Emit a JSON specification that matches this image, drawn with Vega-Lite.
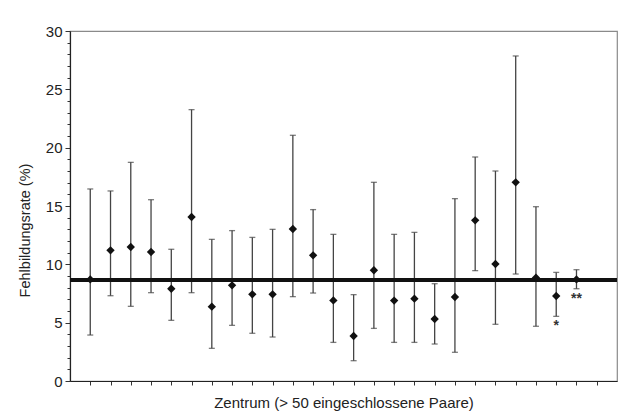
{
  "$schema": "https://vega.github.io/schema/vega-lite/v6.json",
  "width": 547,
  "height": 350,
  "autosize": {"type": "none"},
  "padding": {"left": 70, "top": 31, "right": 4, "bottom": 35},
  "background": "white",
  "config": {
    "font": "Liberation Sans",
    "view": {"stroke": "#8a8a8a", "strokeWidth": 1.2}
  },
  "data": {
    "values": [
      {"c": 1, "rate": 8.71, "lo": 3.94, "hi": 16.46, "note": ""},
      {"c": 2, "rate": 11.2, "lo": 7.31, "hi": 16.29, "note": ""},
      {"c": 3, "rate": 11.49, "lo": 6.4, "hi": 18.74, "note": ""},
      {"c": 4, "rate": 11.06, "lo": 7.57, "hi": 15.54, "note": ""},
      {"c": 5, "rate": 7.91, "lo": 5.2, "hi": 11.29, "note": ""},
      {"c": 6, "rate": 14.06, "lo": 7.57, "hi": 23.26, "note": ""},
      {"c": 7, "rate": 6.37, "lo": 2.8, "hi": 12.14, "note": ""},
      {"c": 8, "rate": 8.2, "lo": 4.77, "hi": 12.89, "note": ""},
      {"c": 9, "rate": 7.43, "lo": 4.09, "hi": 12.31, "note": ""},
      {"c": 10, "rate": 7.43, "lo": 3.77, "hi": 13.0, "note": ""},
      {"c": 11, "rate": 13.03, "lo": 7.23, "hi": 21.06, "note": ""},
      {"c": 12, "rate": 10.77, "lo": 7.54, "hi": 14.69, "note": ""},
      {"c": 13, "rate": 6.91, "lo": 3.31, "hi": 12.57, "note": ""},
      {"c": 14, "rate": 3.86, "lo": 1.74, "hi": 7.4, "note": ""},
      {"c": 15, "rate": 9.49, "lo": 4.51, "hi": 17.03, "note": ""},
      {"c": 16, "rate": 6.89, "lo": 3.31, "hi": 12.57, "note": ""},
      {"c": 17, "rate": 7.06, "lo": 3.31, "hi": 12.74, "note": ""},
      {"c": 18, "rate": 5.31, "lo": 3.17, "hi": 8.34, "note": ""},
      {"c": 19, "rate": 7.2, "lo": 2.46, "hi": 15.63, "note": ""},
      {"c": 20, "rate": 13.77, "lo": 9.46, "hi": 19.2, "note": ""},
      {"c": 21, "rate": 10.03, "lo": 4.86, "hi": 18.0, "note": ""},
      {"c": 22, "rate": 17.03, "lo": 9.17, "hi": 27.86, "note": ""},
      {"c": 23, "rate": 8.86, "lo": 4.69, "hi": 14.94, "note": ""},
      {"c": 24, "rate": 7.29, "lo": 5.54, "hi": 9.31, "note": "*"},
      {"c": 25, "rate": 8.71, "lo": 7.91, "hi": 9.54, "note": "**"}
    ]
  },
  "encoding": {
    "x": {
      "field": "c",
      "type": "quantitative",
      "scale": {"domain": [0, 27], "nice": false, "zero": false},
      "axis": {
        "values": [1, 2, 3, 4, 5, 6, 7, 8, 9, 10, 11, 12, 13, 14, 15, 16, 17, 18, 19, 20, 21, 22, 23, 24, 25, 26],
        "labels": false,
        "grid": false,
        "domainColor": "#222222",
        "domainWidth": 1.2,
        "tickColor": "#333333",
        "tickSize": 4,
        "title": "Zentrum (> 50 eingeschlossene Paare)",
        "titleFont": "Liberation Sans",
        "titleFontSize": 15,
        "titleFontWeight": "normal",
        "titleColor": "#222222",
        "titleBaseline": "alphabetic",
        "titleY": 26
      }
    },
    "y": {
      "field": "lo",
      "type": "quantitative",
      "scale": {"domain": [0, 30], "nice": false},
      "axis": {
        "values": [0, 1, 2, 3, 4, 5, 6, 7, 8, 9, 10, 11, 12, 13, 14, 15, 16, 17, 18, 19, 20, 21, 22, 23, 24, 25, 26, 27, 28, 29, 30],
        "grid": false,
        "domainColor": "#222222",
        "domainWidth": 1.2,
        "tickColor": "#333333",
        "tickSize": {"condition": {"test": "datum.value % 5 === 0", "value": 5}, "value": 3},
        "labelFont": "Liberation Sans",
        "labelFontSize": 15,
        "labelColor": "#222222",
        "labelOpacity": {"condition": {"test": "datum.value % 5 === 0", "value": 1}, "value": 0},
        "labelPadding": 3,
        "labelOverlap": false,
        "title": "Fehlbildungsrate (%)",
        "titleFont": "Liberation Sans",
        "titleFontSize": 14.5,
        "titleFontWeight": "normal",
        "titleColor": "#222222",
        "titleAngle": -90,
        "titleAlign": "center",
        "titleBaseline": "middle",
        "titleX": -45,
        "titleY": 199
      }
    }
  },
  "layer": [
    {
      "mark": {"type": "rule", "color": "#444444", "strokeWidth": 1.3},
      "encoding": {"y2": {"field": "hi"}}
    },
    {
      "mark": {"type": "tick", "orient": "horizontal", "size": 6, "thickness": 1.3, "color": "#444444"}
    },
    {
      "mark": {"type": "tick", "orient": "horizontal", "size": 6, "thickness": 1.3, "color": "#444444"},
      "encoding": {"y": {"field": "hi", "type": "quantitative"}}
    },
    {
      "mark": {"type": "rule", "color": "#111111", "strokeWidth": 3},
      "encoding": {"x": {"value": 0}, "x2": {"value": 547}, "y": {"datum": 8.66}}
    },
    {
      "mark": {"type": "point", "shape": "diamond", "filled": true, "size": 70, "color": "#111111", "opacity": 1},
      "encoding": {"y": {"field": "rate", "type": "quantitative"}}
    },
    {
      "mark": {"type": "text", "baseline": "top", "align": "center", "dy": 3, "fontSize": 14, "fontWeight": "bold", "color": "#333333", "font": "Liberation Sans"},
      "encoding": {"text": {"field": "note"}}
    }
  ]
}
